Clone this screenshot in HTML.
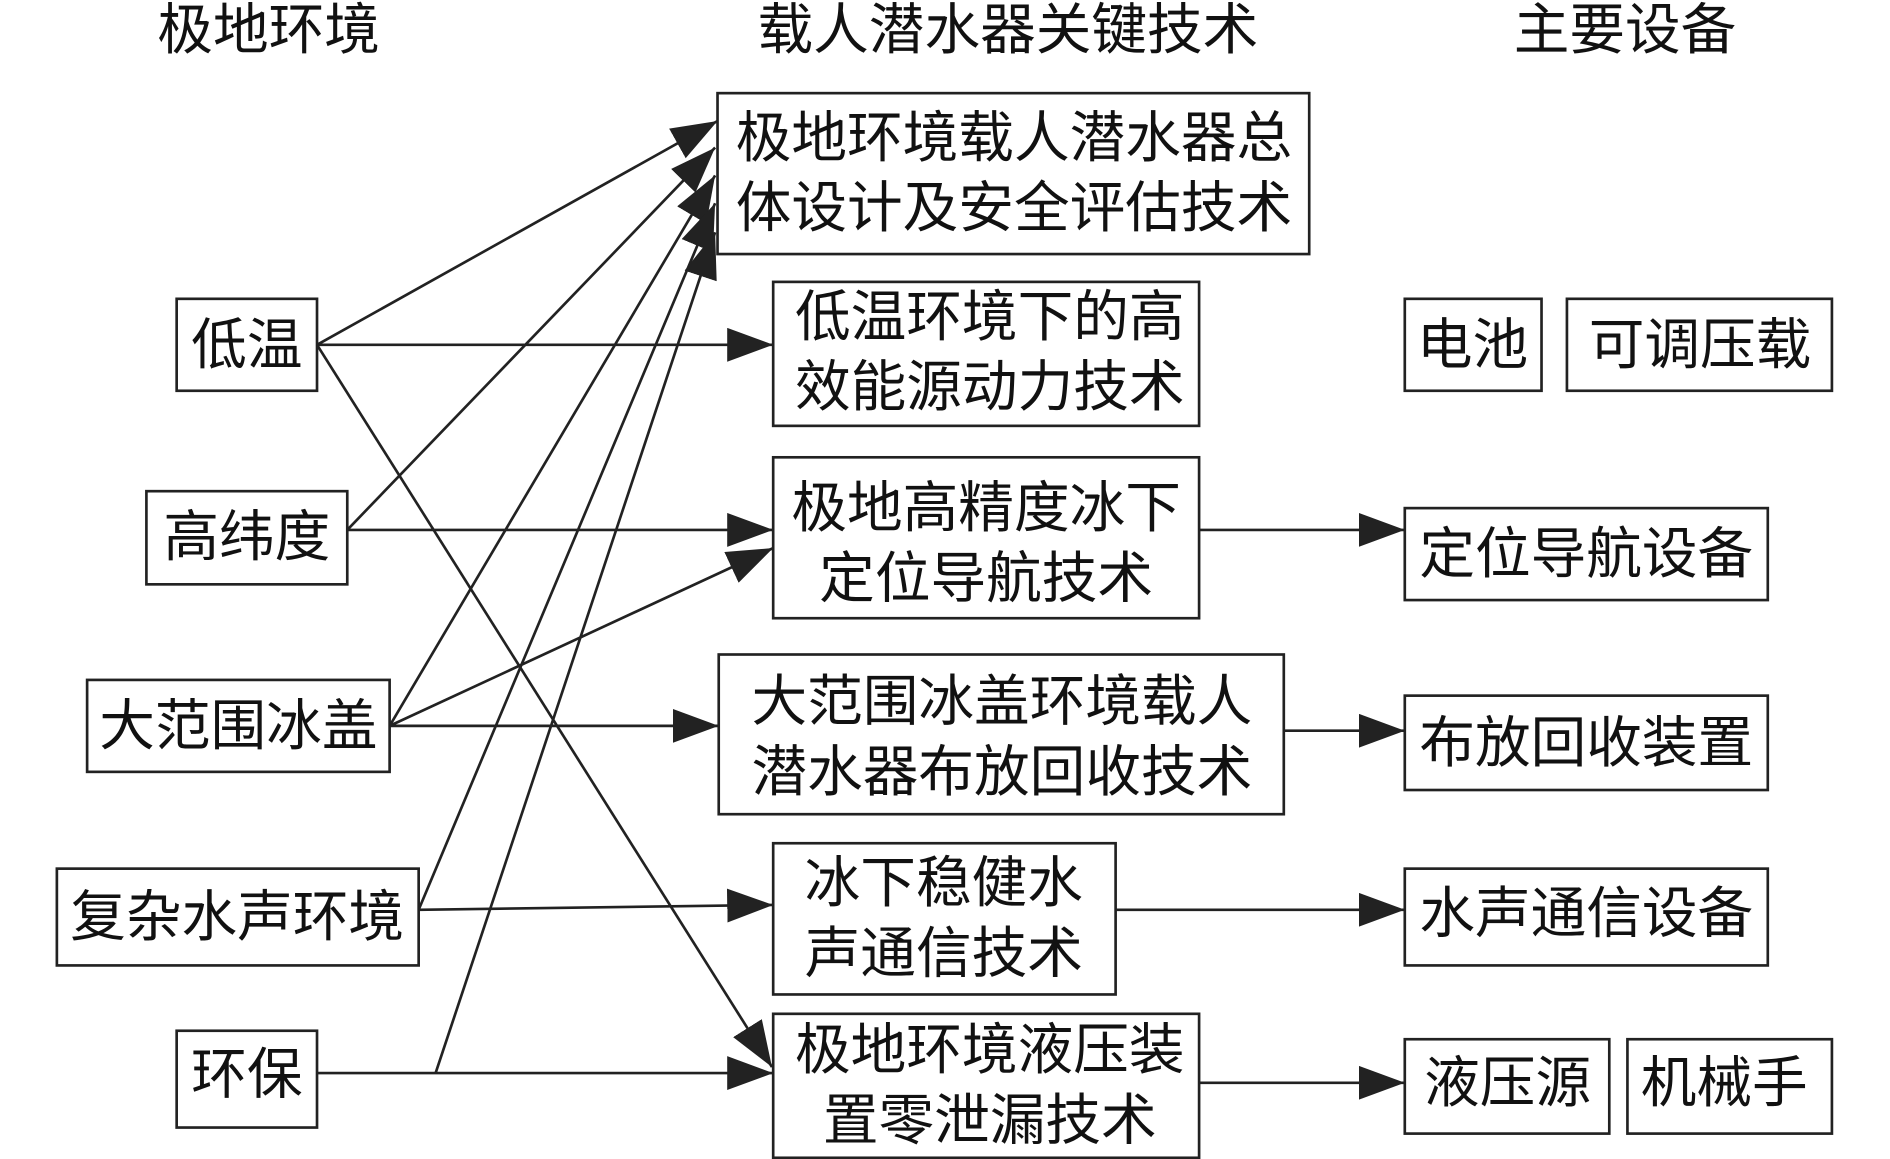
<!DOCTYPE html>
<html><head><meta charset="utf-8"><style>
html,body{margin:0;padding:0;background:#fff;}
svg{display:block;}
text{font-family:"Liberation Sans","Noto Sans CJK SC",sans-serif;font-size:46px;fill:#111;}
</style></head><body>
<svg width="1890" height="1159" viewBox="0 0 1562 958" preserveAspectRatio="none" xmlns="http://www.w3.org/2000/svg">
<defs>
<marker id="a" markerUnits="userSpaceOnUse" markerWidth="40" markerHeight="30" refX="38" refY="14" orient="auto">
<path d="M0,0 L38,14 L0,28 Z" fill="#222"/>
</marker>
</defs>
<g fill="none" stroke="#222" stroke-width="2.2">
<!-- boxes -->
<rect x="146" y="247" width="116" height="76"/>
<rect x="121" y="406" width="166" height="77"/>
<rect x="72" y="562" width="250" height="76"/>
<rect x="47" y="718" width="299" height="80"/>
<rect x="146" y="852" width="116" height="80"/>
<rect x="593" y="77" width="489" height="133"/>
<rect x="639" y="233" width="352" height="119"/>
<rect x="639" y="378" width="352" height="133"/>
<rect x="594" y="541" width="467" height="132"/>
<rect x="639" y="697" width="283" height="125"/>
<rect x="639" y="838" width="352" height="119"/>
<rect x="1161" y="247" width="113" height="76"/>
<rect x="1295" y="247" width="219" height="76"/>
<rect x="1161" y="420" width="300" height="76"/>
<rect x="1161" y="575" width="300" height="78"/>
<rect x="1161" y="718" width="300" height="80"/>
<rect x="1161" y="859" width="169" height="78"/>
<rect x="1345" y="859" width="169" height="78"/>
</g>
<g stroke="#222" stroke-width="2.2" fill="none" marker-end="url(#a)">
<line x1="262" y1="285" x2="593" y2="100"/>
<line x1="262" y1="285" x2="639" y2="285"/>
<line x1="262" y1="285" x2="638" y2="882"/>
<line x1="287" y1="438" x2="591" y2="122"/>
<line x1="287" y1="438" x2="639" y2="438"/>
<line x1="322" y1="600" x2="591" y2="145"/>
<line x1="322" y1="600" x2="639" y2="453"/>
<line x1="322" y1="600" x2="594" y2="600"/>
<line x1="346" y1="752" x2="591" y2="168"/>
<line x1="346" y1="752" x2="639" y2="748"/>
<line x1="262" y1="887" x2="639" y2="887"/>
<line x1="360" y1="887" x2="591" y2="192"/>
<line x1="991" y1="438" x2="1161" y2="438"/>
<line x1="1061" y1="604" x2="1161" y2="604"/>
<line x1="922" y1="752" x2="1161" y2="752"/>
<line x1="991" y1="895" x2="1161" y2="895"/>
</g>
<g text-anchor="middle" dominant-baseline="central">
<text x="222" y="25">极地环境</text>
<text x="833" y="25">载人潜水器关键技术</text>
<text x="1343" y="25">主要设备</text>
<text x="204" y="285">低温</text>
<text x="204" y="444">高纬度</text>
<text x="197" y="600">大范围冰盖</text>
<text x="196" y="758">复杂水声环境</text>
<text x="204" y="888">环保</text>
<text x="838" y="114">极地环境载人潜水器总</text>
<text x="838" y="172">体设计及安全评估技术</text>
<text x="818" y="262">低温环境下的高</text>
<text x="818" y="320">效能源动力技术</text>
<text x="815" y="420">极地高精度冰下</text>
<text x="815" y="478">定位导航技术</text>
<text x="828" y="580">大范围冰盖环境载人</text>
<text x="828" y="638">潜水器布放回收技术</text>
<text x="780" y="730">冰下稳健水</text>
<text x="780" y="788">声通信技术</text>
<text x="818" y="868">极地环境液压装</text>
<text x="818" y="926">置零泄漏技术</text>
<text x="1217" y="285">电池</text>
<text x="1405" y="285">可调压载</text>
<text x="1311" y="458">定位导航设备</text>
<text x="1311" y="614">布放回收装置</text>
<text x="1311" y="755">水声通信设备</text>
<text x="1246" y="895">液压源</text>
<text x="1425" y="895">机械手</text>
</g>
</svg>
</body></html>
